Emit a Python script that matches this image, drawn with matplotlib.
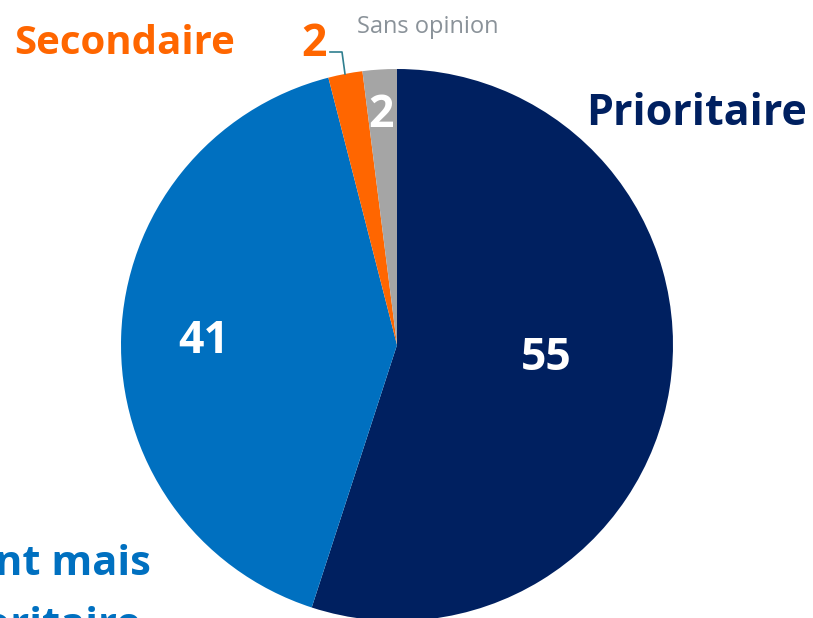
import matplotlib
matplotlib.use('Agg')
import matplotlib.pyplot as plt

categories = ['Prioritaire', 'Important mais\nnon prioritaire', 'Secondaire', 'Sans opinion']
values = [55, 41, 2, 2]
colors = ['#002060', '#0070C0', '#FF6600', '#A5A5A5']

plt.rcParams['font.family'] = ['Open Sans', 'DejaVu Sans']

W, H = 813, 618
cx, cy, R = 397, 345, 276


def px(x, y):
    # pixel position -> data units (pie radius = 1)
    return (x - cx) / R, (cy - y) / R


fig = plt.figure(figsize=(W / 100, H / 100), dpi=100)
ax = fig.add_axes([0, 0, 1, 1])
ax.pie(values, colors=colors, startangle=90, counterclock=False, radius=1,
       wedgeprops={'linewidth': 0})
ax.set_xlim(-cx / R, (W - cx) / R)
ax.set_ylim(-(H - cy) / R, cy / R)
ax.set_aspect('auto')
ax.axis('off')

# values inside the slices
num = dict(color='white', fontsize=32, fontweight='bold', ha='center', va='center')
ax.text(*px(546, 359), str(values[0]), **num)
ax.text(*px(204, 342), str(values[1]), **num)
ax.text(*px(381, 116), str(values[3]), **num)
ax.text(*px(314, 45), str(values[2]), **{**num, 'color': colors[2]})

# leader line for the small orange slice
lx, ly = zip(px(330, 52), px(342, 52), px(345, 74))
ax.plot(lx, ly, color='#2F7F8F', lw=1.2)

# category labels
ax.text(*px(697, 114), categories[0], color=colors[0], fontsize=31, fontweight='bold', ha='center', va='center')
ax.text(*px(125, 44), categories[2], color=colors[2], fontsize=29, fontweight='bold', ha='center', va='center')
ax.text(*px(428, 27), categories[3], color='#8A9299', fontsize=17, ha='center', va='center')
for i, line in enumerate(categories[1].split('\n')):
    ax.text(*px(-12, 575 + 62 * i), line, color=colors[1], fontsize=30, fontweight='bold',
            ha='center', va='baseline')

fig.savefig('out.png', dpi=100)
